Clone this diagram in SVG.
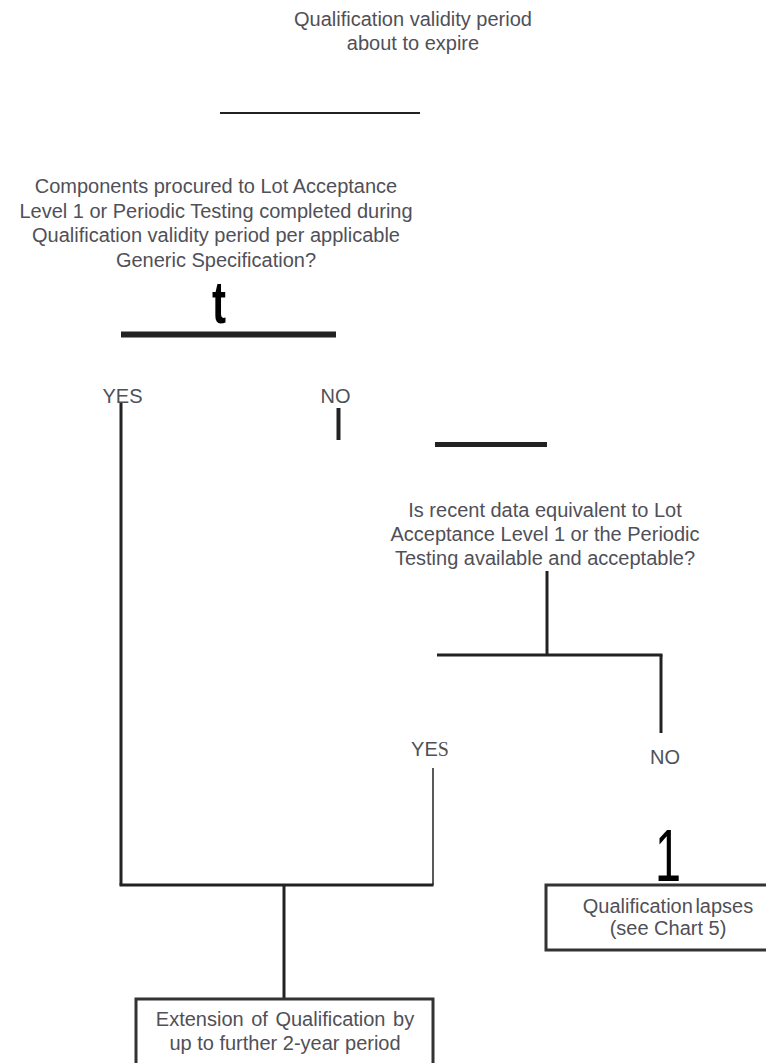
<svg xmlns="http://www.w3.org/2000/svg" width="766" height="1063" viewBox="0 0 766 1063">
<style>
.t{font-family:"Liberation Sans",Arial,sans-serif;font-size:20px;fill:#505058;text-anchor:middle}
.c{stroke:#222;fill:none}
.box{fill:#fff;stroke:#333;stroke-width:3}
</style>
<rect width="766" height="1063" fill="#fff"/>
<g id="connectors">
<line class="c" x1="220" y1="113" x2="420" y2="113" stroke-width="2" stroke="#111"/>
<line class="c" x1="121" y1="334.5" x2="336" y2="334.5" stroke-width="6" stroke="#000"/>
<line class="c" x1="121" y1="403" x2="121" y2="885" stroke-width="3"/>
<line class="c" x1="338.5" y1="408" x2="338.5" y2="440" stroke-width="4" stroke="#000"/>
<line class="c" x1="435" y1="444.5" x2="547" y2="444.5" stroke-width="5"/>
<line class="c" x1="547" y1="571" x2="547" y2="655" stroke-width="3"/>
<line class="c" x1="437" y1="655" x2="662.5" y2="655" stroke-width="3"/>
<line class="c" x1="661" y1="655" x2="661" y2="733" stroke-width="3"/>
<line class="c" x1="433" y1="768" x2="433" y2="885" stroke-width="1.5" stroke="#444"/>
<line class="c" x1="119.5" y1="885" x2="433.5" y2="885" stroke-width="3"/>
<line class="c" x1="284" y1="885" x2="284" y2="999" stroke-width="3"/>
<text x="219" y="323" font-family="Liberation Sans,Arial,sans-serif" font-weight="bold" font-size="60" fill="#000" text-anchor="middle" textLength="14" lengthAdjust="spacingAndGlyphs">t</text>
<text x="668" y="881" font-family="Liberation Sans,Arial,sans-serif" font-size="74" fill="#000" text-anchor="middle" textLength="26" lengthAdjust="spacingAndGlyphs">1</text>
</g>
<g id="start">
<text class="t" x="413" y="26">Qualification validity period</text>
<text class="t" x="413" y="50">about to expire</text>
</g>
<g id="q1">
<text class="t" x="216" y="193">Components procured to Lot Acceptance</text>
<text class="t" x="216" y="218">Level 1 or Periodic Testing completed during</text>
<text class="t" x="216" y="242">Qualification validity period per applicable</text>
<text class="t" x="216" y="267">Generic Specification?</text>
</g>
<g id="q1-yes"><text class="t" x="122.5" y="403">YES</text></g>
<g id="q1-no"><text class="t" x="335.5" y="403">NO</text></g>
<g id="q2">
<text class="t" x="545" y="517">Is recent data equivalent to Lot</text>
<text class="t" x="545" y="541">Acceptance Level 1 or the Periodic</text>
<text class="t" x="545" y="565">Testing available and acceptable?</text>
</g>
<g id="q2-yes"><text class="t" x="430" y="756">YE<tspan font-family="Liberation Serif,serif">S</tspan></text></g>
<g id="q2-no"><text class="t" x="665" y="764">NO</text></g>
<g id="lapse">
<rect class="box" x="546" y="885" width="230" height="65"/>
<text class="t" x="668" y="913" word-spacing="-3">Qualification lapses</text>
<text class="t" x="668" y="935">(see Chart 5)</text>
</g>
<g id="extension">
<rect class="box" x="136" y="999" width="297" height="80"/>
<text class="t" x="285" y="1026" word-spacing="2">Extension of Qualification by</text>
<text class="t" x="285" y="1050">up to further 2-year period</text>
</g>
</svg>
